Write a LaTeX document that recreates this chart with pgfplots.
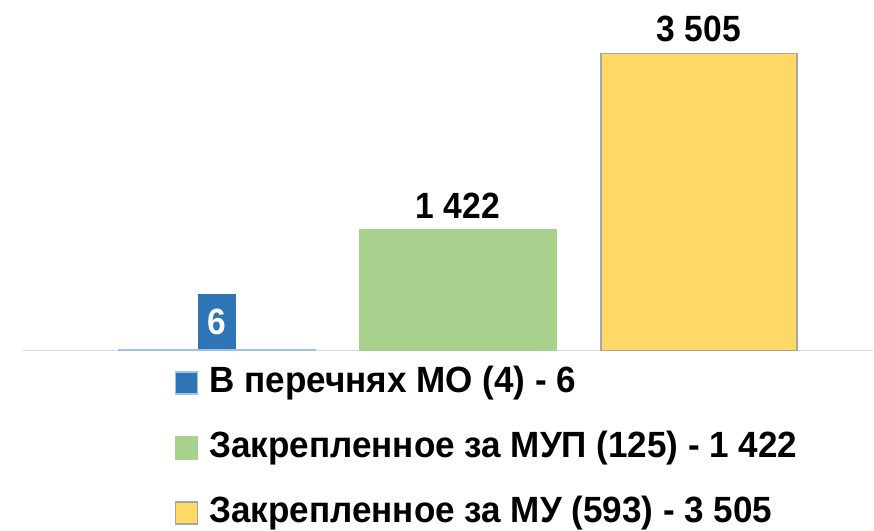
\documentclass[border=0pt]{standalone}
\usepackage{fontspec}
\setmainfont{Liberation Sans}[FakeStretch=0.96]
\newfontfamily\numfont{Liberation Sans}[FakeStretch=0.92]
\usepackage{pgfplots}
\pgfplotsset{compat=1.18}
\definecolor{cblue}{HTML}{2E75B6}
\definecolor{cblueedge}{HTML}{9DC3E6}
\definecolor{cgreen}{HTML}{A9D18E}
\definecolor{cyellow}{HTML}{FFD966}
\definecolor{cyedge}{HTML}{A6A6A6}
\definecolor{caxis}{HTML}{D9D9D9}
\begin{document}
\begin{tikzpicture}
\begin{axis}[
  at={(23pt,179.5pt)}, anchor=south west,
  scale only axis, width=850pt, height=350.5pt,
  xmin=-0.805, xmax=2.722, ymin=0, ymax=4133,
  ybar, bar width=196pt, bar shift=0pt,
  axis x line=bottom, axis y line=none,
  x axis line style={-, draw=caxis, line width=1.5pt},
  xtick=\empty, ytick=\empty,
  point meta=explicit symbolic,
  nodes near coords,
  every node near coord/.append style={font=\fontsize{36.5}{44}\selectfont\numfont\bfseries, anchor=south, inner sep=0pt, yshift=11pt, text=black},
  legend image code/.code={\draw[#1, line width=1.5pt] (0pt,-11pt) rectangle (22pt,11pt); \path (33pt,0pt);},
  legend style={draw=none, fill=none, at={(axis description cs:0.175,-0.04)}, anchor=north west,
    font=\fontsize{36.5}{44}\selectfont\bfseries, legend cell align=left, row sep=32pt,
    nodes={inner sep=0pt, text height=26pt, text depth=7pt}},
]
\addplot[fill=cblue, draw=cblueedge, line width=1.5pt,
  every node near coord/.append style={fill=cblue, text=white, yshift=-11pt, inner xsep=9.5pt, inner ysep=14.8pt}]
  coordinates {(0,6) [6]};
\addlegendentry{В перечнях МО (4) - 6}
\addplot[fill=cgreen, draw=cgreen, line width=1.5pt]
  coordinates {(1,1422) [1~422]};
\addlegendentry{Закрепленное за МУП (125) - 1 422}
\addplot[fill=cyellow, draw=cyedge, line width=1.5pt]
  coordinates {(2,3505) [3~505]};
\addlegendentry{Закрепленное за МУ (593) - 3 505}
\end{axis}
\pgfresetboundingbox
\path[use as bounding box] (0,0) rectangle (874pt,530pt);
\end{tikzpicture}
\end{document}
